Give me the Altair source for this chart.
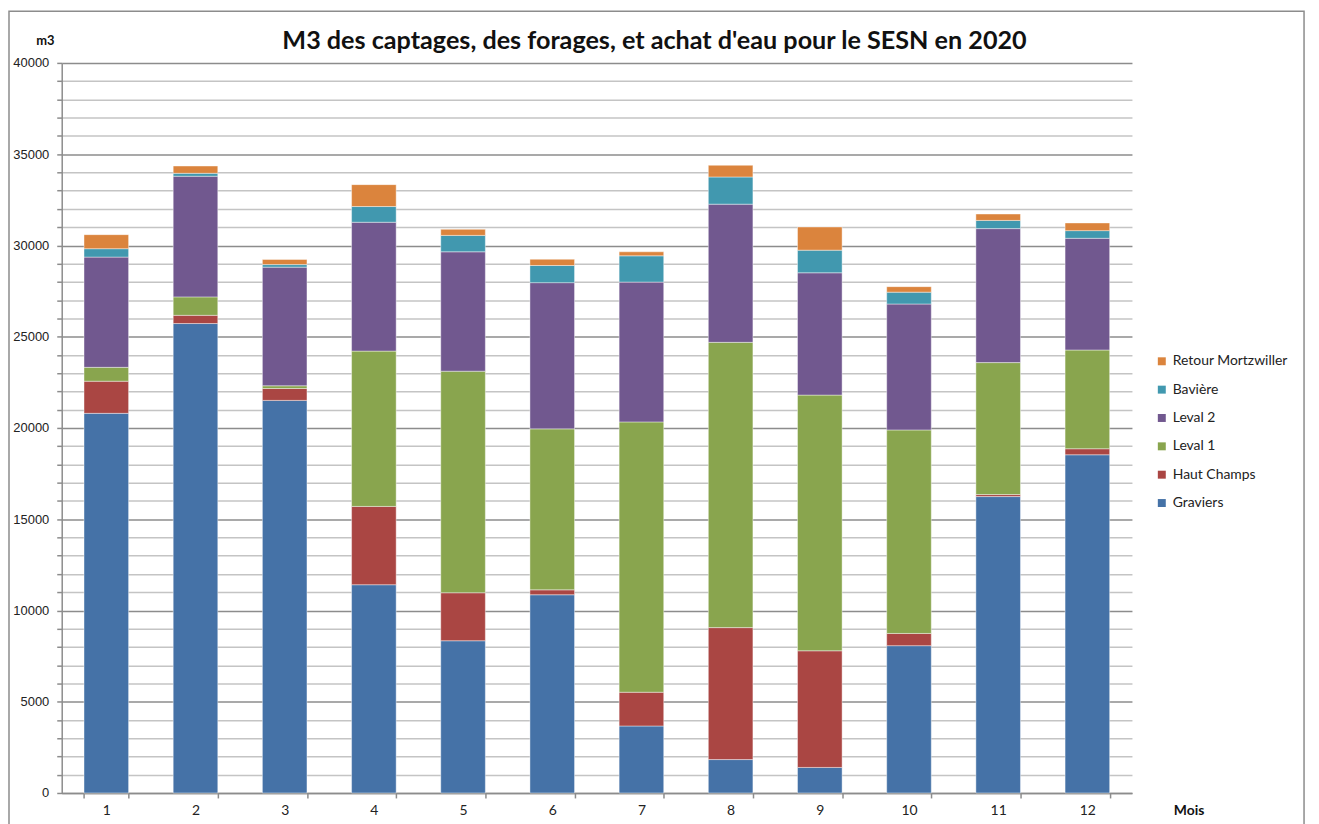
import altair as alt
import pandas as pd

months = [str(m) for m in range(1, 13)]
series = ["Graviers", "Haut Champs", "Leval 1", "Leval 2", "Bavière", "Retour Mortzwiller"]
colors = ["#4572A7", "#AA4643", "#89A54E", "#71588F", "#4198AF", "#DB843D"]

graviers = [20800, 25720, 21510, 11410, 8340, 10860, 3670, 1830, 1400, 8070, 16240, 18530]
haut_champs = [1760, 450, 650, 4290, 2630, 270, 1850, 7230, 6390, 670, 110, 330]
leval1 = [760, 1010, 150, 8510, 12140, 8820, 14810, 15630, 14010, 11150, 7230, 5410]
leval2 = [6040, 6610, 6500, 7060, 6540, 8010, 7660, 7570, 6700, 6900, 7340, 6120]
baviere = [460, 160, 140, 860, 900, 940, 1440, 1490, 1240, 650, 450, 420]
retour = [770, 400, 280, 1200, 330, 340, 220, 640, 1270, 300, 350, 420]

values = [graviers, haut_champs, leval1, leval2, baviere, retour]
rows = []
for si, (name, vals) in enumerate(zip(series, values)):
    for m, v in zip(months, vals):
        rows.append({"Mois": m, "Serie": name, "m3": v, "idx": si})
df = pd.DataFrame(rows)

W, H = 1076, 734
FONT = "Lato"
NUMFONT = "Liberation Sans"

legend_domain = list(reversed(series))
legend_range = list(reversed(colors))

bars = alt.Chart(df).mark_bar(stroke="white", strokeWidth=0.6, strokeOpacity=0.7).encode(
    x=alt.X("Mois:N", sort=months,
            scale=alt.Scale(paddingInner=0.5, paddingOuter=0.25),
            axis=alt.Axis(title="Mois", titleFont=FONT, titleFontSize=14, titleFontWeight="bold",
                          titleColor="#111", titleX=1133, titleY=22, titleAlign="center",
                          titleBaseline="alphabetic",
                          labelAngle=0, labelFont=FONT, labelFontSize=14, labelColor="#222",
                          labelPadding=6, tickBand="extent", tickSize=5, tickColor="#8c8c8c",
                          tickWidth=1.5, domainColor="#8c8c8c", domainWidth=1.5, grid=False)),
    y=alt.Y("m3:Q", stack="zero",
            scale=alt.Scale(domain=[0, 40000], nice=False),
            axis=alt.Axis(values=list(range(0, 40001, 1000)),
                          labelExpr="datum.value % 5000 === 0 ? datum.value : ''",
                          title="m3", titleAngle=0, titleFont=FONT, titleFontSize=13,
                          titleFontWeight="bold", titleColor="#111", titleX=-17, titleY=-18,
                          titleAlign="center", titleBaseline="alphabetic",
                          labelFont=NUMFONT, labelFontSize=13, labelColor="#222", labelPadding=8,
                          tickSize=5, tickColor="#8c8c8c", tickWidth=1.5,
                          domainColor="#8c8c8c", domainWidth=1.5,
                          gridColor={"condition": {"test": "datum.value % 5000 === 0", "value": "#8c8c8c"},
                                     "value": "#c4c4c4"},
                          gridWidth=1.5)),
    color=alt.Color("Serie:N", scale=alt.Scale(domain=legend_domain, range=legend_range),
                    legend=alt.Legend(title=None, orient="none", legendX=1099, legendY=293,
                                      symbolType="square", symbolSize=64, symbolStrokeWidth=0,
                                      labelFont=FONT, labelFontSize=14, labelColor="#222",
                                      rowPadding=14.5, labelOffset=4)),
    order=alt.Order("idx:Q", sort="ascending"),
)

one = alt.Data(values=[{"t": "M3 des captages, des forages, et achat d'eau pour le SESN en 2020"}])

title = alt.Chart(one).mark_text(font=FONT, fontSize=25.3, fontWeight="bold", color="#111",
                                 align="center", baseline="alphabetic").encode(
    text="t:N", x=alt.value(596), y=alt.value(-14))

frame = alt.Chart(one).mark_rect(fill=None, stroke="#8c8c8c", strokeWidth=1.5).encode(
    x=alt.value(-53), x2=alt.value(1249), y=alt.value(-52), y2=alt.value(780))

chart = alt.layer(frame, bars, title).properties(
    width=W, height=H,
    autosize=alt.AutoSizeParams(type="none"),
    padding={"left": 54, "top": 53, "right": 180, "bottom": 29},
).configure_view(stroke=None)

chart.save("out.html", embed_options={"renderer": "svg", "actions": False})
